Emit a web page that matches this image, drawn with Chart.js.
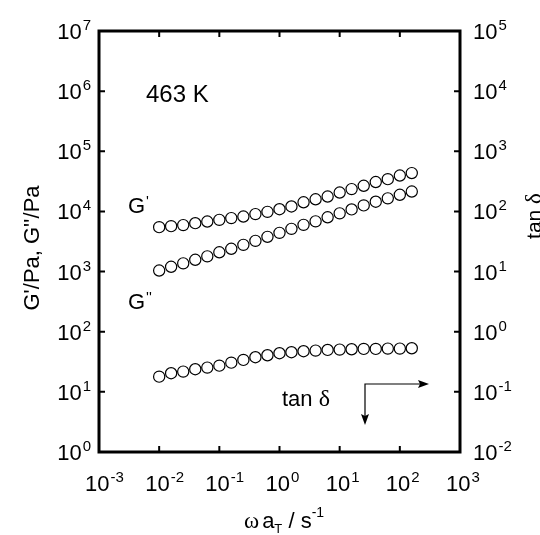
<!DOCTYPE html>
<html>
<head>
<meta charset="utf-8">
<script src="https://cdn.jsdelivr.net/npm/chart.js@4/dist/chart.umd.min.js"></script>
<style>
  body { margin: 0; background: #fff; }
  canvas { display: block; }
</style>
</head>
<body>
<canvas id="chart" width="540" height="535"></canvas>
<script>
// reduced frequency, 5 points per decade
const freq = [0.01, 0.0158, 0.0251, 0.0398, 0.0631, 0.1, 0.158, 0.251, 0.398, 0.631,
  1, 1.58, 2.51, 3.98, 6.31, 10, 15.8, 25.1, 39.8, 63.1, 100, 158];
const gPrime = [5480, 5690, 5920, 6380, 6790, 7240, 7740, 8220, 9020, 9840,
  10900, 12100, 14200, 15900, 17700, 20600, 23500, 26700, 30800, 34400, 39500, 43400];
const gDouble = [1040, 1200, 1370, 1570, 1790, 2090, 2390, 2780, 3240, 3780,
  4400, 5130, 5980, 6840, 7980, 9290, 10800, 12600, 14500, 16500, 18900, 21400];
const tanDelta = [0.179, 0.204, 0.217, 0.238, 0.253, 0.273, 0.306, 0.340, 0.377, 0.406,
  0.439, 0.456, 0.474, 0.485, 0.498, 0.504, 0.511, 0.518, 0.518, 0.524, 0.524, 0.531];

const xExps = [-3, -2, -1, 0, 1, 2, 3];
const yExps = [0, 1, 2, 3, 4, 5, 6, 7];
const y2Exps = [-2, -1, 0, 1, 2, 3, 4, 5];

const SANS = '"Liberation Sans", Arial, Helvetica, sans-serif';
const SERIF = '"Liberation Serif", "Times New Roman", serif';

function pts(ys) {
  return freq.map((f, i) => ({ x: f, y: ys[i] }));
}

// draws a run of text pieces one after another, returns end x
function drawRun(ctx, x, y, parts) {
  for (const p of parts) {
    ctx.font = p.font;
    ctx.fillText(p.text, x, y + (p.dy || 0));
    x += ctx.measureText(p.text).width + (p.gap || 0);
  }
  return x;
}

function runWidth(ctx, parts) {
  let w = 0;
  for (const p of parts) {
    ctx.font = p.font;
    w += ctx.measureText(p.text).width + (p.gap || 0);
  }
  return w;
}

function powParts(e) {
  return [
    { text: '10', font: '22px ' + SANS, gap: 1 },
    { text: String(e), font: '15px ' + SANS, dy: -9 }
  ];
}

const decorations = {
  id: 'decorations',
  afterDraw(chart) {
    const ctx = chart.ctx;
    const a = chart.chartArea;
    const sx = chart.scales.x, sy = chart.scales.y, sy2 = chart.scales.y2;
    ctx.save();
    ctx.fillStyle = '#000';
    ctx.strokeStyle = '#000';
    ctx.textBaseline = 'alphabetic';
    ctx.textAlign = 'left';

    // tick marks, pointing inward
    ctx.lineWidth = 2;
    ctx.beginPath();
    xExps.forEach(e => {
      const px = sx.getPixelForValue(Math.pow(10, e));
      ctx.moveTo(px, a.bottom); ctx.lineTo(px, a.bottom - 6);
      ctx.moveTo(px, a.top); ctx.lineTo(px, a.top + 6);
    });
    yExps.forEach(e => {
      const py = sy.getPixelForValue(Math.pow(10, e));
      ctx.moveTo(a.left, py); ctx.lineTo(a.left + 6, py);
    });
    y2Exps.forEach(e => {
      const py = sy2.getPixelForValue(Math.pow(10, e));
      ctx.moveTo(a.right, py); ctx.lineTo(a.right - 6, py);
    });
    ctx.stroke();

    // frame
    ctx.lineWidth = 3;
    ctx.strokeRect(a.left, a.top, a.right - a.left, a.bottom - a.top);

    // tick labels
    xExps.forEach(e => {
      const px = sx.getPixelForValue(Math.pow(10, e));
      drawRun(ctx, px - 14, a.bottom + 39, powParts(e));
    });
    yExps.forEach(e => {
      const py = sy.getPixelForValue(Math.pow(10, e));
      const parts = powParts(e);
      drawRun(ctx, a.left - 8 - runWidth(ctx, parts), py + 8, parts);
    });
    y2Exps.forEach(e => {
      const py = sy2.getPixelForValue(Math.pow(10, e));
      drawRun(ctx, a.right + 13, py + 8, powParts(e));
    });

    // axis titles
    ctx.save();
    ctx.translate(39, 248);
    ctx.rotate(-Math.PI / 2);
    ctx.font = '22px ' + SANS;
    ctx.textAlign = 'center';
    ctx.fillText("G'/Pa, G''/Pa", 0, 0);
    ctx.restore();

    ctx.save();
    ctx.translate(541, 216);
    ctx.rotate(-Math.PI / 2);
    const tParts = [
      { text: 'tan ', font: '21px ' + SANS },
      { text: 'δ', font: '23px ' + SERIF }
    ];
    drawRun(ctx, -runWidth(ctx, tParts) / 2, 0, tParts);
    ctx.restore();

    drawRun(ctx, 244, 528, [
      { text: 'ω', font: '23px ' + SERIF, gap: 3 },
      { text: 'a', font: '22px ' + SANS },
      { text: 'T', font: '13px ' + SANS, dy: 5 },
      { text: ' / s', font: '22px ' + SANS },
      { text: '-1', font: '14px ' + SANS, dy: -11 }
    ]);

    // annotations
    ctx.font = '24px ' + SANS;
    ctx.fillText('463 K', 146, 102);
    drawRun(ctx, 128, 213, [
      { text: 'G', font: '22px ' + SANS, gap: 1 },
      { text: "'", font: '15px ' + SANS, dy: -7 }
    ]);
    drawRun(ctx, 128, 309, [
      { text: 'G', font: '22px ' + SANS, gap: 1 },
      { text: "''", font: '15px ' + SANS, dy: -7 }
    ]);
    drawRun(ctx, 282, 406, [
      { text: 'tan ', font: '22px ' + SANS },
      { text: 'δ', font: '24px ' + SERIF }
    ]);

    // arrow pointing to the right axis and down
    ctx.lineWidth = 1.2;
    ctx.beginPath();
    ctx.moveTo(365, 422); ctx.lineTo(365, 384); ctx.lineTo(425, 384);
    ctx.stroke();
    ctx.beginPath();
    ctx.moveTo(429, 384); ctx.lineTo(418, 380); ctx.lineTo(420, 384); ctx.lineTo(418, 388);
    ctx.closePath(); ctx.fill();
    ctx.beginPath();
    ctx.moveTo(365, 425); ctx.lineTo(361, 414); ctx.lineTo(365, 416); ctx.lineTo(369, 414);
    ctx.closePath(); ctx.fill();

    ctx.restore();
  }
};

const circle = {
  showLine: false,
  pointStyle: 'circle',
  pointRadius: 5.6,
  pointBorderWidth: 1.2,
  pointBorderColor: '#000',
  pointBackgroundColor: 'rgba(0,0,0,0)'
};

new Chart(document.getElementById('chart'), {
  type: 'scatter',
  data: {
    datasets: [
      Object.assign({ label: "G'", data: pts(gPrime), yAxisID: 'y' }, circle),
      Object.assign({ label: "G''", data: pts(gDouble), yAxisID: 'y' }, circle),
      Object.assign({ label: 'tan δ', data: pts(tanDelta), yAxisID: 'y2' }, circle)
    ]
  },
  options: {
    responsive: false,
    animation: false,
    layout: { padding: { left: 99, right: 80, top: 31, bottom: 83 } },
    plugins: { legend: { display: false }, tooltip: { enabled: false } },
    scales: {
      x: { type: 'logarithmic', min: 1e-3, max: 1e3, display: false },
      y: { type: 'logarithmic', min: 1, max: 1e7, display: false },
      y2: { type: 'logarithmic', position: 'right', min: 1e-2, max: 1e5, display: false }
    }
  },
  plugins: [decorations]
});
</script>
</body>
</html>
